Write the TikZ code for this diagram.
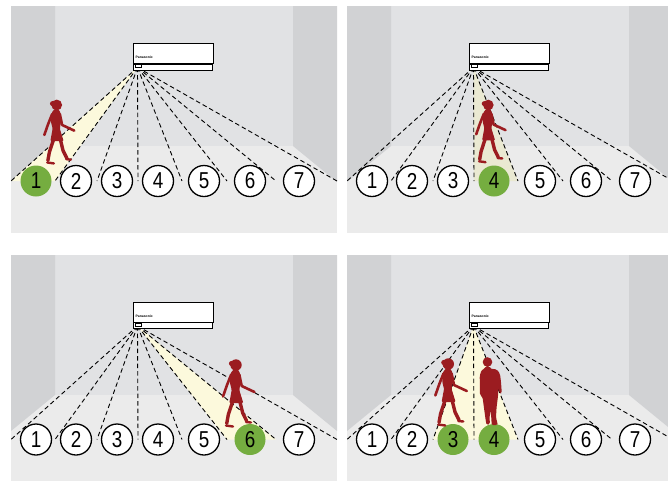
\documentclass[tikz,border=0pt]{standalone}
\usepackage{fontspec}
\setmainfont{Liberation Sans}

\definecolor{floorgrey}{HTML}{EBEBEB}
\definecolor{backgrey}{HTML}{E1E2E4}
\definecolor{sidegrey}{HTML}{D1D2D4}
\definecolor{beamyellow}{HTML}{FCF9DC}
\definecolor{beamdim}{HTML}{EAE9D2}
\definecolor{litgreen}{HTML}{75AD40}
\definecolor{personred}{HTML}{9B1C20}

\tikzset{
  ray/.style={dash pattern=on 4.5pt off 3pt, line width=0.9pt},
  beam/.style={fill=beamyellow},
  beamfaint/.style={fill=beamdim},
  zone/.style={circle, draw, line width=1.3pt, fill=white,
    minimum size=31pt, inner sep=0pt, font=\fontsize{23}{23}\selectfont},
  zonelit/.style={zone, draw=none, fill=litgreen},
  indoor/.style={rectangle, draw, fill=white, line width=0.8pt, inner sep=0pt},
  brand/.style={font=\bfseries\fontsize{3.4}{4}\selectfont, inner sep=0pt},
  limb/.style={draw=personred, line cap=round, line join=round},
  woman/.pic={
    \fill[personred] (0,0) circle (5.7);
    \fill[personred] (-4.5,-1.5) circle (2.6);
    \fill[personred, rounded corners=1pt] (-2,4) -- (1.5,4) -- (4,8) -- (4.5,18)
      -- (3.3,25) -- (7.3,38) -- (-6.7,38) -- (-4.3,25) -- (-6,18) -- (-5.3,8) -- cycle;
    \draw[limb, line width=2.6pt] (-4.8,9.5) -- (-9,20) -- (-13,31.5);
    \draw[limb, line width=2.6pt] (3.3,9.5) -- (5.7,21) -- (18.5,27);
    \draw[limb, line width=3.4pt] (-3.5,37) -- (-7.7,49.7) -- (-9.3,58.5);
    \draw[limb, line width=3.4pt] (4,37) -- (6.7,48) -- (10.7,56);
    \draw[limb, line width=2.4pt] (-10,60.5) -- (-3,61.5);
    \draw[limb, line width=2.4pt] (10,57) -- (15,57.5);
  },
  man/.pic={
    \fill[personred] (0,0) circle (4.8);
    \fill[personred, rounded corners=1.5pt] (-1.8,4) -- (1.8,4) -- (2.5,6.5)
      -- (9.5,7.5) -- (12.5,12) -- (13.5,20) -- (14.3,31) -- (12.5,32) -- (11,26)
      -- (10.5,34) -- (9,46) -- (8.5,56) -- (10,61) -- (10,63) -- (4,63) -- (4,58)
      -- (3,48) -- (2,56) -- (2.5,62) -- (-1,63) -- (-2,57) -- (-3.5,46) -- (-5,35)
      -- (-7.5,33) -- (-7.8,14) -- (-6,8) -- (-2.5,6.5) -- cycle;
  }
}

% one room: #1,#2 offset, #3 extra drop of unit and zones,
% #4..#5 zones in the air stream, #6 beam style, #7 name prefix
\newcommand{\roompanel}[7]{%
  \begin{scope}[shift={(#1,#2)}]
    % floor, back wall and side walls
    \fill[floorgrey] (11,0) rectangle (337,227);
    \fill[backgrey] (55,0) rectangle (293,140);
    \fill[sidegrey] (11,0) -- (55,0) -- (55,140) -- (11,176) -- cycle;
    \fill[sidegrey] (337,0) -- (293,0) -- (293,140) -- (337,176) -- cycle;
  \end{scope}
  \begin{scope}[shift={(#1,#2+#3)}, name prefix=#7-]
    \coordinate (src) at (137.5,61.5);
    \foreach \x [count=\i from 0] in {11,55,97,138,182,227,276,337}
      \coordinate (e\i) at (\x,175);
    % air stream
    \pgfmathtruncatemacro{\lo}{#4-1}
    \fill[#6] (src) -- (e\lo) -- (e#5) -- cycle;
    \foreach \i in {0,...,7}
      \draw[ray] (src) -- (e\i);
    % indoor unit
    \node[indoor, minimum width=80pt, minimum height=20pt, anchor=north west]
      (unit) at (133,37) {};
    \node[indoor, minimum width=79pt, minimum height=6pt, anchor=north west]
      (vane) at (unit.south west) {};
    \draw[line width=0.6pt] (135,58.5) rectangle (141,61.5);
    \node[brand, anchor=west] (logo) at (135.5,51.5) {Panasonic};
    % zones 1-7
    \foreach \x [count=\i] in {36,76,117,158,204,250,299} {
      \ifnum\i<#4 \def\zs{zone}\else\ifnum\i>#5 \def\zs{zone}\else\def\zs{zonelit}\fi\fi
      \node[\zs] (z\i) at (\x,175) {\scalebox{0.82}[1]{\i}};
    }
  \end{scope}
}

\begin{document}
\begin{tikzpicture}[x=1pt, y=-1pt]
\useasboundingbox (0,0) rectangle (668,480);
\fill[white] (0,0) rectangle (668,480);
\clip (0,0) rectangle (668,480);

\roompanel{0}{6}{0}{1}{1}{beam}{a}
\roompanel{336}{6}{0}{4}{4}{beamfaint}{b}
\roompanel{0}{255}{9.5}{6}{6}{beam}{c}
\roompanel{336}{255}{9.5}{3}{4}{beam}{d}

% people in the rooms
\pic[scale=0.95] (walkerA) at (56.7,105) {woman};
\pic[scale=0.93] (walkerB) at (488.3,105) {woman};
\pic (walkerC) at (236,365) {woman};
\pic (walkerD) at (448.3,364) {woman};
\pic (standerD) at (487.5,362) {man};

\end{tikzpicture}
\end{document}
